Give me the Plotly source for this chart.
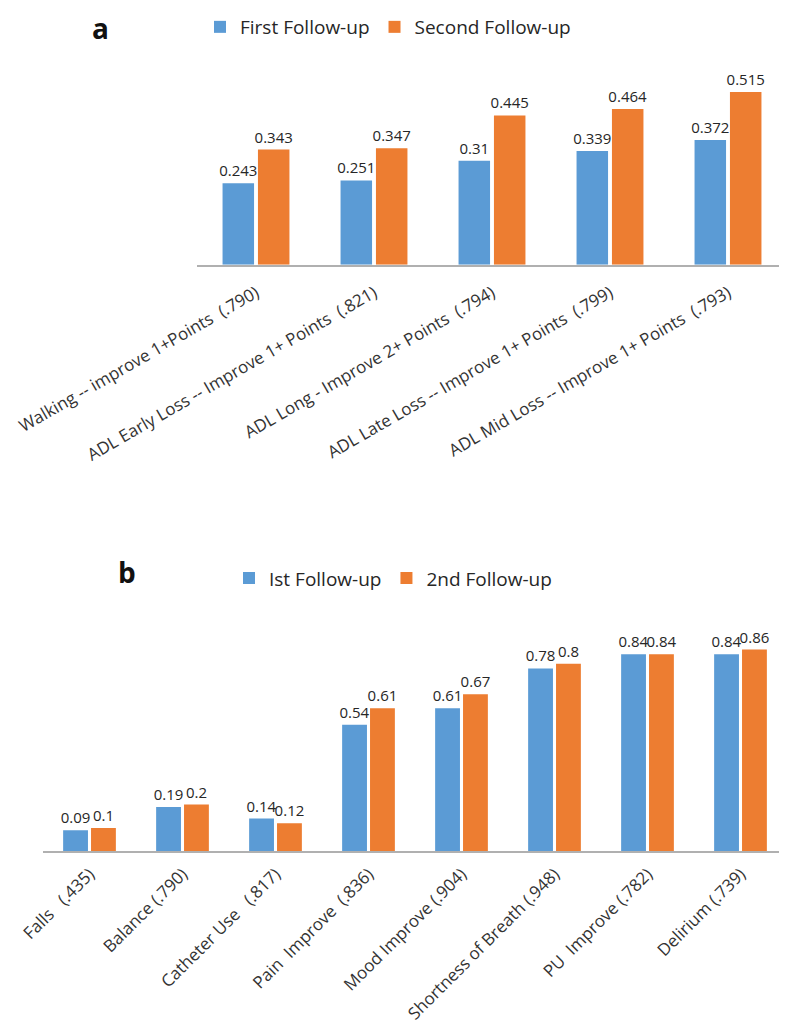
import plotly.graph_objects as go

NB = "\u00a0"
cats_a = [
    "Walking -- improve 1+Points" + NB + " (.790)",
    "ADL Early Loss -- Improve 1+ Points" + NB + " (.821)",
    "ADL Long - Improve 2+ Points" + NB + " (.794)",
    "ADL Late Loss -- Improve 1+ Points" + NB + " (.799)",
    "ADL Mid Loss -- Improve 1+ Points" + NB + " (.793)",
]
first_a = [0.243, 0.251, 0.31, 0.339, 0.372]
second_a = [0.343, 0.347, 0.445, 0.464, 0.515]

cats_b = [
    "Falls" + NB + NB + " (.435)",
    "Balance (.790)",
    "Catheter Use" + NB + NB + " (.817)",
    "Pain" + NB + " Improve" + NB + " (.836)",
    "Mood Improve (.904)",
    "Shortness of Breath (.948)",
    "PU" + NB + " Improve (.782)",
    "Delirium (.739)",
]
first_b = [0.09, 0.19, 0.14, 0.54, 0.61, 0.78, 0.84, 0.84]
second_b = [0.1, 0.2, 0.12, 0.61, 0.67, 0.8, 0.84, 0.86]

BLUE = "#5B9BD5"
ORANGE = "#ED7D31"
FONT = "Open Sans"
TXT = "#262626"

# reference canvas size and page offset (body margin of the html page)
W, H = 787, 1030
OFF = 8
FW, FH = W - OFF, H - OFF


def px(x):
    return (x - OFF) / FW


def py(y):
    return 1 - (y - OFF) / FH


fig = go.Figure()


def add_bar(x, y, name, color, xa, ya, legend):
    fig.add_trace(go.Bar(
        x=x, y=y, name=name, marker=dict(color=color, line=dict(width=0)),
        text=[str(v) for v in y], textposition="outside",
        textfont=dict(size=15, color=TXT, family=FONT),
        constraintext="none", cliponaxis=False,
        xaxis=xa, yaxis=ya, legend=legend, hoverinfo="skip",
    ))


add_bar(cats_a, first_a, "First Follow-up", BLUE, "x", "y", "legend")
add_bar(cats_a, second_a, "Second Follow-up", ORANGE, "x", "y", "legend")
add_bar(cats_b, first_b, "Ist Follow-up", BLUE, "x2", "y2", "legend2")
add_bar(cats_b, second_b, "2nd Follow-up", ORANGE, "x2", "y2", "legend2")

axis_common = dict(showline=True, linecolor="#B0B0B0", linewidth=2, ticks="",
                   showgrid=False, zeroline=False, automargin=False)
yaxis_common = dict(visible=False, showgrid=False, zeroline=False, automargin=False)

a_bottom, a_top = 254, 40
b_bottom, b_top = 849, 600

fig.update_layout(
    width=FW, height=FH, autosize=False,
    margin=dict(l=0, r=0, t=0, b=0),
    paper_bgcolor="white", plot_bgcolor="white",
    barmode="group", bargap=0.4, bargroupgap=0.11,
    font=dict(family=FONT, color=TXT),
    xaxis=dict(domain=[px(197), 1.0], anchor="y", tickangle=-30,
               ticklabelstandoff=10,
               tickfont=dict(size=17, color="#333333", family=FONT), **axis_common),
    yaxis=dict(domain=[py(a_bottom), py(a_top)], anchor="x",
               range=[0, (a_bottom - a_top) / 340.0], **yaxis_common),
    xaxis2=dict(domain=[px(43), 1.0], anchor="y2", tickangle=-45,
                ticklabelstandoff=4,
                tickfont=dict(size=17, color="#333333", family=FONT), **axis_common),
    yaxis2=dict(domain=[py(b_bottom), py(b_top)], anchor="x2",
                range=[0, (b_bottom - b_top) / 238.0], **yaxis_common),
    legend=dict(orientation="h", x=px(200), y=py(13), xanchor="left", yanchor="middle",
                font=dict(size=19, color=TXT, family=FONT), bgcolor="rgba(0,0,0,0)",
                itemclick=False, traceorder="normal"),
    legend2=dict(orientation="h", x=px(229), y=py(572), xanchor="left", yanchor="middle",
                 font=dict(size=19, color=TXT, family=FONT), bgcolor="rgba(0,0,0,0)",
                 itemclick=False, traceorder="normal"),
    showlegend=True,
    annotations=[
        dict(text="<b>a</b>", x=px(100), y=py(14), xref="paper", yref="paper",
             showarrow=False, font=dict(size=28, color="#111111", family=FONT),
             xanchor="center", yanchor="middle"),
        dict(text="<b>b</b>", x=px(127), y=py(566), xref="paper", yref="paper",
             showarrow=False, font=dict(size=28, color="#111111", family=FONT),
             xanchor="center", yanchor="middle"),
    ],
)

fig.write_html("out.html")
